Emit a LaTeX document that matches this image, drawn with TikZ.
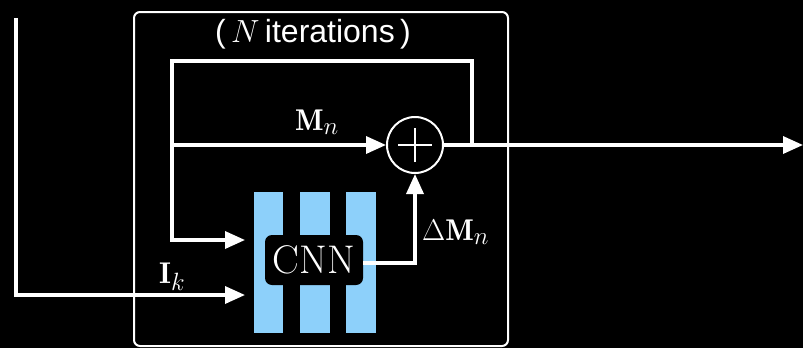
\documentclass[tikz,border=0pt]{standalone}
\usepackage{fix-cm}
\usepackage{fontspec}
\setsansfont{Liberation Sans}
\usetikzlibrary{arrows.meta}
\newcommand\bigsub[1]{_{\mbox{\fontsize{25}{25}\selectfont$#1$}}}
\definecolor{barblue}{HTML}{8DD0FA}
\begin{document}
\begin{tikzpicture}[x=1pt,y=-1pt,
  wire/.style={white,line width=3.4pt},
  arr/.style={wire,-{Triangle[length=20pt,width=17pt]}},
  lbl/.style={white,inner sep=0pt,anchor=base west,font=\fontsize{30}{34}\selectfont},
  bar/.style={fill=barblue,draw=none}]
\fill[black] (0,0) rectangle (803,348);
\useasboundingbox (0,0) rectangle (803,348);
% outer box
\draw[white,line width=2pt,rounded corners=6pt] (134,12) rectangle (508,346);
\node[white,inner sep=0pt,font=\sffamily\fontsize{32}{36}\selectfont] (title) at (313,34) {(\,$N$\,iterations\,)};
% bars
\fill[bar] (254,192) rectangle (283,333);
\fill[bar] (300,192) rectangle (330,333);
\fill[bar] (346,192) rectangle (376,333);
\node[fill=black,rounded corners=7pt,minimum width=98pt,minimum height=50pt,inner sep=0pt,
  text=white,font=\fontsize{40}{44}\selectfont] (cnn) at (314,260) {CNN};
% sum node
\node[draw=white,line width=2pt,circle,minimum size=56pt,inner sep=0pt] (sum) at (415,145) {};
\draw[white,line width=2pt] ([yshift=-17pt]sum.center) -- ([yshift=17pt]sum.center)
  ([xshift=-17pt]sum.center) -- ([xshift=17pt]sum.center);
% coordinates
\coordinate (start) at (16,18);
\coordinate (ikcorner) at (16,295);
\coordinate (ikend) at (245,295);
\coordinate (split) at (172,145);
\coordinate (lcorner) at (172,240);
\coordinate (lend) at (245,240);
\coordinate (ltop) at (172,61);
\coordinate (rtop) at (472,61);
\coordinate (rtap) at (472,145);
\coordinate (out) at (803,145);
% wires
\draw[arr] (start) -- (ikcorner) -- (ikend);
\draw[wire] (rtap) -- (rtop) -- (ltop) -- (split);
\draw[arr] (split) -- (lcorner) -- (lend);
\draw[arr] (split) -- (sum.west);
\draw[arr] (sum.east) -- (out);
\draw[arr] (cnn.east |- 0,263) -- (415,263) -- (sum.south);
% labels
\node[lbl] (mn) at (295,130) {$\mathbf{M}\bigsub{n}$};
\node[lbl] (dmn) at (422,240) {$\Delta\mathbf{M}\bigsub{n}$};
\node[lbl] (ik) at (159,283) {$\mathbf{I}\bigsub{k}$};
\end{tikzpicture}
\end{document}
